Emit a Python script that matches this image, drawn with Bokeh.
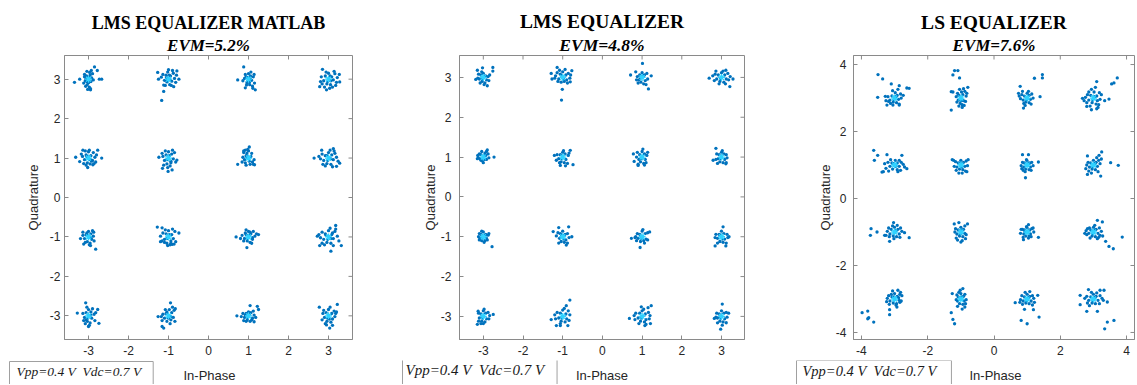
import math
from bokeh.plotting import figure
from bokeh.layouts import row, column
from bokeh.models import Label, FixedTicker, Range1d, Title
from bokeh.embed import file_html
from bokeh.resources import INLINE

# ---------------- data ----------------
titles = ["LMS EQUALIZER MATLAB", "LMS EQUALIZER", "LS EQUALIZER"]
evm_labels = ["EVM=5.2%", "EVM=4.8%", "EVM=7.6%"]
note_text = "Vpp=0.4 V\u00a0\u00a0Vdc=0.7 V"
x_label = "In-Phase"
y_label = "Quadrature"
ticks_a = [-3, -2, -1, 0, 1, 2, 3]
ticks_b = [-4, -2, 0, 2, 4]

cluster_I = [-3, -1, 1, 3, -3, -1, 1, 3, -3, -1, 1, 3, -3, -1, 1, 3]
cluster_Q = [3, 3, 3, 3, 1, 1, 1, 1, -1, -1, -1, -1, -3, -3, -3, -3]

lms_matlab_offsets = [
    [(-35,-8),(-22,0),(15,31),(22,22),(27,0),(33,0),(5,-27),(-10,12),(0,0),(-5,8),(4,10),(-8,-4),(6,-6),(-3,-14),(2,-20),(-7,-18),(8,3),(-10,6),(3,17),(-4,20),(10,14),(0,-9),(-12,-10),(5,-24),(-2,-26),(12,-2),(-6,2),(7,22),(2,5),(-4,-6)],
    [(-12,-31),(-17,-54),(-27,17),(21,21),(26,0),(-25,0),(13,-19),(-12,-15),(0,0),(5,8),(-6,10),(8,-5),(-4,-7),(12,15),(-10,-3),(3,-14),(-2,18),(15,2),(-14,12),(7,-16),(-8,-16),(18,-8),(0,24),(10,22),(-5,4),(4,-2),(-18,5),(20,10),(2,10),(-3,-4)],
    [(-12,31),(-27,-2),(17,-27),(11,-23),(-8,-22),(0,0),(-6,6),(5,8),(-3,-6),(8,-3),(-10,2),(12,6),(3,-14),(-5,-15),(10,-18),(0,14),(-8,12),(15,-10),(6,18),(-14,-4),(2,-8),(14,12),(-2,4),(4,2),(-4,-10)],
    [(-15,25),(-22,-19),(-5,-27),(27,12),(28,-7),(3,-23),(0,0),(-8,8),(8,6),(-12,-4),(12,-2),(-4,-12),(5,-14),(0,15),(16,14),(-18,6),(-6,18),(10,-20),(20,-8),(-16,-12),(4,8),(-2,-6),(14,20),(-10,-20),(22,4),(6,-4),(-20,-6),(18,-16)],
    [(-32,2),(33,0),(23,20),(-14,20),(-2,-24),(11,-17),(-22,-9),(0,0),(-6,8),(6,6),(-10,-4),(10,-6),(-3,-12),(4,-15),(0,16),(-8,18),(12,14),(-15,4),(16,2),(-12,-14),(8,-8),(2,20),(-4,4),(18,-10),(-18,10),(20,8),(5,-4),(-6,-18),(14,-14)],
    [(-15,-26),(-1,-34),(9,-30),(-24,2),(21,-5),(0,0),(-6,8),(8,10),(-10,-6),(6,-8),(-4,-15),(12,-2),(0,16),(-14,4),(15,14),(-8,18),(4,-20),(-12,-18),(18,-10),(2,6),(-4,-4),(10,20),(-16,12),(6,-12),(-2,-24)],
    [(2,28),(-27,-16),(15,-17),(-12,18),(0,0),(-6,6),(-10,-4),(-4,12),(2,-8),(-12,14),(6,4),(10,-10),(-8,-12),(0,18),(-14,2),(14,-4),(4,-16),(-2,22),(8,12),(-16,-10),(12,-16),(-6,-18),(-8,20),(-4,2)],
    [(-36,0),(28,-13),(20,-21),(-17,20),(12,24),(0,0),(-8,6),(8,8),(-12,-6),(12,-4),(-4,-14),(6,-16),(0,14),(-16,10),(16,12),(-20,-2),(20,2),(-8,-20),(10,-22),(4,20),(-2,-6),(-14,-16),(14,18),(24,-8),(-24,4),(6,-2),(-4,6)],
    [(18,-31),(5,-22),(-20,-4),(13,12),(-14,12),(0,0),(-6,6),(6,8),(-10,-4),(8,-6),(-3,-12),(4,-16),(0,14),(-14,4),(12,2),(-8,-14),(10,16),(2,-20),(-4,10),(14,-10),(-12,-18),(-2,4),(6,-2)],
    [(-28,25),(-16,23),(26,10),(-20,-12),(9,-19),(0,0),(-6,8),(8,6),(-10,-6),(6,-10),(-4,-16),(12,-4),(0,16),(-14,10),(16,14),(-8,18),(4,-20),(-16,-10),(18,-12),(2,6),(-4,-4),(10,20),(-20,2),(14,-18),(-2,-22),(6,-16),(-10,-14)],
    [(-4,-27),(-31,0),(25,6),(0,0),(-6,6),(6,8),(-10,-4),(10,-6),(-3,-10),(4,-14),(0,14),(-16,4),(16,2),(-12,-10),(12,14),(-6,18),(8,-16),(20,8),(-20,-4),(2,4),(-2,-4),(10,-2),(-8,10),(4,12)],
    [(6,-36),(32,-22),(18,29),(-28,2),(-22,-22),(0,0),(-8,8),(8,6),(-12,-6),(12,-4),(-4,-14),(6,-16),(0,16),(-16,12),(16,14),(-20,-2),(22,2),(-10,-20),(12,-22),(4,22),(-2,-6),(-16,-16),(18,20),(26,-10),(-24,6),(6,-4),(-6,4),(10,10)],
    [(-28,7),(-7,33),(26,-19),(0,-27),(23,16),(0,0),(-6,8),(6,10),(-10,-4),(8,-6),(-3,-14),(4,-18),(0,16),(-14,6),(14,4),(-8,-20),(10,18),(2,-24),(-4,22),(16,-12),(-12,-12),(6,2),(-2,-6),(18,8),(-6,-10)],
    [(-12,-31),(5,33),(-26,-2),(-16,-27),(17,18),(0,0),(-6,6),(8,8),(-10,-6),(6,-10),(-4,-14),(12,-4),(2,16),(-14,4),(14,14),(-8,16),(4,-20),(-16,-12),(16,-14),(0,-6),(-4,10),(10,22),(-18,-2),(6,-2)],
    [(22,24),(25,16),(4,26),(-29,0),(14,-15),(0,0),(-6,6),(6,8),(-10,-4),(10,-6),(-3,-10),(4,-14),(-14,6),(14,2),(-12,-12),(12,12),(-6,-14),(8,-10),(-18,-2),(18,-4),(2,4),(-2,-4),(0,10),(-8,2)],
    [(-23,22),(22,29),(3,-31),(-5,-23),(18,6),(0,0),(-6,8),(8,6),(-10,-4),(10,-8),(-4,-14),(6,-16),(0,16),(-14,6),(14,12),(-16,-10),(16,-2),(-8,-20),(10,-24),(4,22),(-2,-6),(-12,14),(20,10),(2,-8)],
]

lms_offsets = [
    [(-15,18),(24,25),(24,16),(-2,24),(-19,-5),(10,-21),(0,0),(-6,6),(6,4),(-10,-4),(8,-6),(-3,-10),(4,-14),(0,10),(-12,8),(12,2),(-8,-14),(14,-8),(2,-18),(-4,14),(16,6),(-14,-2),(4,2),(-2,-4)],
    [(-3,-57),(-1,-30),(-29,10),(-14,25),(23,17),(19,-11),(-27,-4),(0,0),(-6,8),(8,6),(-10,-4),(10,-6),(-4,-12),(4,-10),(0,14),(-14,12),(14,10),(-18,4),(18,-2),(-8,18),(6,20),(-12,-10),(12,-14),(2,-4),(-2,4),(20,6),(-20,-2)],
    [(1,35),(16,-29),(-29,6),(-16,14),(23,4),(0,0),(-6,6),(6,6),(-8,-6),(8,-8),(-3,-12),(4,-16),(0,12),(-12,2),(12,10),(-10,-14),(10,-18),(14,-4),(-14,-6),(2,4),(-4,-2)],
    [(-31,-2),(29,-4),(21,-23),(-14,16),(11,18),(0,0),(-8,6),(8,6),(-12,-4),(12,-4),(-4,-10),(6,-12),(0,12),(-16,8),(16,10),(-18,-8),(18,-6),(-6,-16),(10,-16),(4,16),(-2,-4),(22,2),(-22,4)],
    [(27,0),(10,18),(-15,-4),(0,0),(-6,6),(6,4),(-8,-4),(8,-6),(-2,-10),(4,10),(-10,8),(12,8),(-12,-2),(14,-2),(0,-14),(-4,14),(8,14),(-14,4),(2,-6),(-6,-8)],
    [(26,-19),(-6,-21),(7,-22),(-21,4),(19,17),(0,0),(-6,6),(6,8),(-10,-4),(8,-6),(-4,-12),(4,-14),(0,12),(-14,6),(14,4),(-8,-14),(12,-16),(2,16),(-2,-4),(16,10),(-16,-8)],
    [(-20,-11),(-10,-21),(-22,8),(0,0),(-6,6),(6,8),(-8,-6),(8,-6),(-4,-12),(4,-16),(0,14),(-12,12),(12,4),(-10,-18),(10,-14),(2,20),(-2,-4),(-14,0),(14,12),(6,-20)],
    [(-14,22),(-21,-8),(11,-17),(0,0),(-6,6),(6,8),(-8,-4),(8,-6),(-4,-12),(4,-14),(0,12),(-12,8),(12,6),(-10,-16),(12,-14),(2,16),(-2,-4),(14,-2),(-14,-6)],
    [(22,-25),(0,0),(-6,6),(6,6),(-8,-4),(8,-4),(-4,-10),(4,-10),(0,12),(-10,8),(12,4),(-10,-8),(10,-8),(2,-14),(-4,14),(14,8),(-12,0),(4,2),(-2,-2)],
    [(-24,13),(15,25),(-10,23),(9,-21),(23,0),(0,0),(-6,8),(6,6),(-8,-4),(8,-8),(-4,-12),(4,-14),(0,14),(-12,10),(12,8),(-10,-16),(12,-16),(-2,4),(2,-6),(16,-2),(-16,2)],
    [(-5,-27),(-27,-4),(-16,0),(19,12),(0,0),(-6,6),(8,8),(-10,-4),(10,-6),(-4,-12),(4,-10),(0,14),(-12,8),(14,10),(-14,-10),(14,-8),(2,18),(-2,-4),(6,-16),(-18,-2)],
    [(4,25),(-16,-23),(11,-23),(19,0),(0,0),(-6,6),(6,8),(-10,-4),(8,-6),(-4,-12),(4,-14),(0,14),(-14,6),(14,6),(-10,-16),(12,-16),(-2,4),(2,-6),(16,-2),(-16,-2)],
    [(-15,-20),(0,-18),(25,5),(-13,13),(0,0),(-6,6),(6,8),(-10,-4),(8,-6),(-4,-12),(4,-14),(0,14),(-12,8),(12,10),(-12,-12),(14,-6),(2,18),(-2,-4),(16,2),(-6,-18)],
    [(18,41),(9,27),(-29,-8),(-16,-23),(13,-23),(-6,-23),(0,0),(-6,8),(8,6),(-10,-4),(10,-6),(-4,-12),(6,-14),(0,16),(-14,10),(14,14),(-18,-6),(16,-10),(-6,-18),(4,20),(-2,-4),(18,4),(-20,4)],
    [(-32,-5),(23,27),(15,22),(-2,24),(7,-23),(21,-18),(0,0),(-6,8),(8,6),(-10,-4),(10,-8),(-4,-12),(6,-14),(0,14),(-16,8),(16,10),(-18,-8),(18,-6),(-8,-18),(10,-20),(4,18),(-2,-4),(-20,2),(20,2)],
    [(2,31),(-2,-32),(-18,-5),(18,8),(0,0),(-6,6),(6,8),(-10,-4),(8,-6),(-4,-12),(4,-14),(0,14),(-12,8),(12,10),(-10,-16),(12,-16),(2,-22),(-2,-4),(14,-2),(-14,-2)],
]

ls_offsets = [
    [(-50,70),(-36,57),(-51,2),(37,30),(44,29),(14,37),(-10,42),(14,-21),(-5,-21),(-23,-21),(-28,5),(0,0),(-8,6),(8,8),(-14,-6),(12,-4),(-4,-12),(6,-14),(2,16),(-20,4),(18,12),(-12,-16),(14,-18),(-6,22),(10,26),(-18,-10),(20,0),(26,8),(-2,-6),(4,4),(-26,-8)],
    [(-24,69),(-9,82),(-19,82),(-4,60),(-29,-36),(-29,19),(21,32),(0,0),(-6,8),(6,10),(-8,-6),(8,-8),(-2,-16),(4,-20),(2,18),(-10,14),(12,20),(-12,-12),(14,-10),(-4,26),(8,28),(-6,-24),(10,-22),(16,6),(-14,4),(18,14),(0,-8),(-24,18),(4,-28)],
    [(22,59),(46,70),(46,60),(39,4),(-11,-30),(-26,14),(-21,35),(0,0),(-8,6),(6,8),(-12,-6),(10,-4),(-4,-12),(6,-14),(0,14),(-16,10),(14,12),(-10,-16),(12,-18),(-20,-2),(18,0),(4,20),(-2,-6),(-14,20),(-6,-22),(-24,6)],
    [(72,60),(62,45),(55,42),(10,49),(-33,-1),(-20,-25),(-6,-35),(47,-3),(34,-8),(0,0),(-8,8),(10,6),(-14,-6),(12,-8),(-4,-14),(8,-18),(2,18),(-18,10),(18,16),(-20,-14),(20,-4),(-10,-24),(14,-28),(-6,26),(6,32),(-24,2),(24,10),(-2,-6),(4,4),(16,-20),(-14,18),(-28,-8),(10,-32)],
    [(-63,44),(-61,14),(-51,29),(-38,-21),(37,-11),(22,29),(-23,31),(0,0),(-8,6),(8,6),(-14,-4),(14,-4),(-20,8),(20,8),(-6,-12),(8,-14),(-26,-10),(26,2),(2,14),(-12,16),(14,14),(-18,-18),(18,-16),(-30,4),(30,-6),(-4,4),(4,-4),(-34,-20),(10,-20)],
    [(0,0),(-8,6),(8,8),(-12,-6),(12,-4),(-4,-12),(6,-14),(0,14),(-16,10),(16,12),(-14,-16),(14,-18),(-22,14),(20,-2),(-6,-24),(4,-24),(22,16),(-20,-4),(-2,6),(2,-6),(-26,16),(18,-20)],
    [(-5,-38),(-14,31),(4,31),(34,9),(-16,-11),(0,0),(-8,6),(8,6),(-10,-6),(10,-6),(-4,-12),(6,-14),(0,12),(-14,8),(14,8),(-12,-16),(12,-16),(-2,16),(18,-2),(-18,-2),(4,4),(-6,-20)],
    [(75,-1),(52,7),(25,39),(17,29),(-18,27),(22,-33),(-23,-11),(0,0),(-8,6),(8,8),(-12,-6),(12,-4),(-4,-12),(6,-14),(0,14),(-16,8),(16,14),(-14,-18),(14,-20),(-20,0),(20,4),(-6,-24),(10,22),(-2,-6),(4,4),(24,18),(-18,-28)],
    [(-73,-10),(-71,10),(-53,0),(44,-17),(30,-2),(-15,-28),(-3,28),(-30,-10),(0,0),(-10,8),(10,8),(-14,-6),(14,-6),(-4,-12),(6,-14),(0,14),(-18,12),(18,12),(-16,-14),(16,-16),(-22,2),(22,2),(-6,18),(8,20),(-2,-20),(4,4),(-26,-10)],
    [(0,0),(-8,6),(8,8),(-12,-6),(12,-4),(-4,-12),(6,-14),(0,14),(-16,10),(12,18),(-14,-18),(14,-20),(-20,24),(20,24),(-6,28),(4,-26),(-2,-6),(2,6),(-18,0),(16,-8),(0,-30),(-10,-24)],
    [(34,-16),(-11,-23),(4,22),(0,0),(-8,6),(8,6),(-10,-6),(10,-6),(-4,-12),(6,-12),(0,12),(-14,8),(14,10),(-12,-16),(12,-14),(-20,-4),(20,0),(-2,16),(4,-18),(-18,8),(18,12),(-6,2)],
    [(87,-15),(60,-50),(47,-43),(37,-28),(12,35),(27,30),(0,0),(-8,6),(8,8),(-14,-4),(14,-4),(-4,-12),(6,-14),(0,14),(-18,10),(18,12),(-20,-8),(20,-10),(-10,-18),(12,-20),(4,20),(-22,4),(24,2),(-2,-6),(2,6),(-12,12),(16,-16),(-26,-4),(28,-12)],
    [(-98,-41),(-81,-36),(-81,-59),(-78,-56),(-63,-69),(-15,-47),(-15,-32),(7,-24),(0,0),(-8,6),(8,8),(-14,-6),(14,-4),(-4,-12),(6,-14),(0,16),(-18,10),(18,20),(-16,-16),(16,-10),(-22,2),(22,10),(-6,24),(10,26),(4,-18),(-2,6),(20,-6),(-10,14),(12,4),(-24,-8),(16,14)],
    [(-29,-41),(-24,-61),(-19,-74),(6,31),(-26,16),(0,0),(-8,6),(8,8),(-10,-6),(10,-6),(-4,-14),(6,-16),(0,16),(-12,12),(12,14),(-10,-22),(12,-24),(-2,26),(4,-30),(16,-2),(-14,-2),(2,6),(-6,20),(14,-14)],
    [(-18,-64),(0,-74),(36,-54),(19,-32),(-8,-31),(-36,-11),(32,11),(0,0),(-8,6),(8,8),(-12,-6),(12,-6),(-4,-12),(6,-14),(0,14),(-16,10),(16,10),(-14,-16),(16,-18),(-20,-2),(20,2),(-6,20),(8,22),(-2,-6),(4,4),(-22,-10),(22,-10)],
    [(34,-89),(42,-69),(62,-64),(12,-37),(-20,-37),(-40,11),(-40,-17),(-15,28),(20,26),(32,26),(42,-9),(0,0),(-8,6),(8,8),(-14,-4),(14,-4),(-4,-12),(6,-14),(0,14),(-20,8),(20,10),(-18,-12),(18,-14),(-26,2),(26,2),(-6,20),(10,18),(-2,-6),(4,4),(-12,-20),(30,-4)],
]

POINT = "#0072BD"
CENTER = "#2FD2FF"
FRAME = "#8a8a8a"
TXT = "#262626"
SANS = "Liberation Sans"
SERIF = "Liberation Serif"

H = 360          # scatter panels (frame bottom at y = 339)
BB = 21
H_NOTES = 24     # strip under the panels: x-axis titles and boxed notes
PAGE_W = 1136

panels = [
    dict(offs=lms_matlab_offsets, title=titles[0], evm=evm_labels[0], xr=(-3.6, 3.6), yr=(-3.6, 3.6),
         ticks=ticks_a, W=392, bl=64, br=40, bt=50, tsize="18px", esize="17px", ylstand=4, ystand=6,
         xlab_x=209, nsize="13.5px", nbox=(9, 361), pad=dict(left=7, right=12, top=2, bottom=12)),
    dict(offs=lms_offsets, title=titles[1], evm=evm_labels[1], xr=(-3.6, 3.58), yr=(-3.58, 3.55),
         ticks=ticks_a, W=394, bl=67, br=42, bt=55, tsize="19.5px", esize="17.5px", ylstand=8, ystand=0,
         xlab_x=601.5, nsize="15px", nbox=(402, 359), pad=dict(left=3, right=13, top=2, bottom=12)),
    dict(offs=ls_offsets, title=titles[2], evm=evm_labels[2], xr=(-4.24, 4.24), yr=(-4.21, 4.27),
         ticks=ticks_b, W=350, bl=67, br=2, bt=54, tsize="19.5px", esize="17px", ylstand=7, ystand=0,
         xlab_x=995, nsize="14.5px", nbox=(796, 360), pad=dict(left=6, right=15, top=2, bottom=12)),
]


def style_axis(ax, ticks):
    ax.ticker = FixedTicker(ticks=ticks)
    ax.major_tick_in = 4
    ax.major_tick_out = 0
    ax.minor_tick_line_color = None
    ax.axis_line_color = FRAME
    ax.major_tick_line_color = FRAME
    ax.major_label_overrides = {t: str(t) for t in ticks}
    ax.major_label_text_font = SANS
    ax.major_label_text_font_size = "12px"
    ax.major_label_text_color = TXT
    ax.axis_label_text_font = SANS
    ax.axis_label_text_font_size = "13px"
    ax.axis_label_text_font_style = "normal"
    ax.axis_label_text_color = TXT


figs = []
for cfg in panels:
    x0, x1 = cfg["xr"]
    y0, y1 = cfg["yr"]
    ticks = cfg["ticks"]
    p = figure(width=cfg["W"], height=H, x_range=Range1d(x0, x1), y_range=Range1d(y0, y1),
               output_backend="svg", toolbar_location=None,
               min_border_left=cfg["bl"], min_border_right=cfg["br"],
               min_border_top=cfg["bt"], min_border_bottom=BB,
               y_axis_label=y_label)
    p.grid.visible = False
    p.outline_line_color = FRAME

    xa = p.xaxis[0]
    ya = p.yaxis[0]
    style_axis(xa, ticks)
    style_axis(ya, ticks)
    xa.major_label_standoff = 6
    ya.major_label_standoff = cfg["ylstand"]
    ya.axis_label_standoff = cfg["ystand"]

    # inward tick marks on the top and right edges of the box, at the same tick values
    p.ray(x=ticks, y=[y1] * len(ticks), length=4, length_units="screen", angle=-math.pi / 2,
          line_color=FRAME, line_width=1)
    p.ray(x=[x1] * len(ticks), y=ticks, length=4, length_units="screen", angle=math.pi,
          line_color=FRAME, line_width=1)

    p.add_layout(Title(text=cfg["evm"], align="center", text_font=SERIF, text_font_style="bold italic",
                       text_font_size=cfg["esize"], text_color="black", standoff=2), "above")
    p.add_layout(Title(text=cfg["title"], align="center", text_font=SERIF, text_font_style="bold",
                       text_font_size=cfg["tsize"], text_color="black", standoff=0), "above")

    xs, ys = [], []
    for ci, cq, offs in zip(cluster_I, cluster_Q, cfg["offs"]):
        for dx, dy in offs:
            xs.append(ci + dx / 100.0)
            ys.append(cq + dy / 100.0)
    p.scatter(xs, ys, size=3.3, marker="circle", fill_color=POINT, line_color=None)
    p.scatter(cluster_I, cluster_Q, size=7, marker="asterisk", line_color=CENTER, line_width=1.3)
    figs.append(p)

# strip below the panels; its x/y ranges are page pixels (y grows downward)
strip = figure(width=PAGE_W, height=H_NOTES, x_range=Range1d(0, PAGE_W), y_range=Range1d(H + H_NOTES, H),
               output_backend="svg", toolbar_location=None, min_border=0,
               min_border_left=0, min_border_right=0, min_border_top=0, min_border_bottom=0,
               x_axis_location=None, y_axis_location=None)
strip.grid.visible = False
strip.outline_line_color = None
for cfg in panels:
    strip.add_layout(Label(x=cfg["xlab_x"], y=374.5, text=x_label, text_align="center",
                           text_baseline="alphabetic", text_font=SANS, text_font_size="13px",
                           text_color=TXT))
    bx, by = cfg["nbox"]
    strip.add_layout(Label(x=bx, y=by, text=note_text, text_align="left", text_baseline="top",
                           text_font=SERIF, text_font_style="italic",
                           text_font_size=cfg["nsize"], text_color="#1a1a1a",
                           border_line_color="#a0a0a0", border_line_width=1,
                           background_fill_color="white", padding=cfg["pad"]))

layout = column(row(*figs, spacing=0), strip, spacing=0)
open("out.html", "w").write(file_html(layout, INLINE))
